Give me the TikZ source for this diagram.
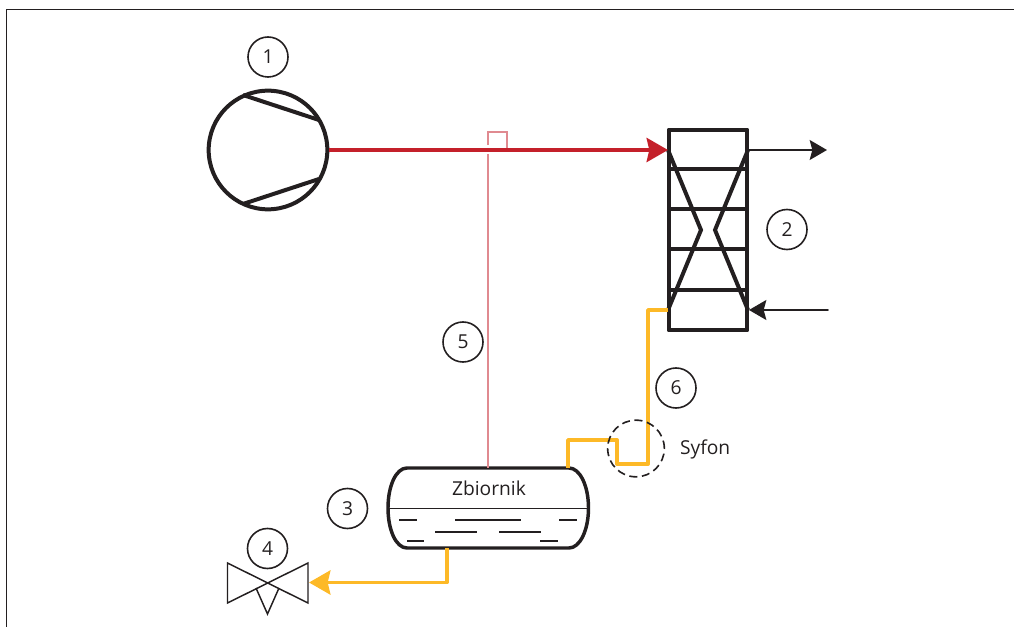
\documentclass[tikz,border=0pt]{standalone}
\usepackage{fontspec}
\setmainfont{Open Sans}
\usetikzlibrary{calc,arrows.meta,positioning}
\definecolor{inkblack}{HTML}{231F20}
\definecolor{hotred}{HTML}{C4202A}
\definecolor{pipered}{HTML}{E08A90}
\definecolor{pipeyellow}{HTML}{FDB927}
\tikzset{
   tag/.style={ circle, draw=inkblack, line width=1.2pt, minimum size=30pt, inner sep=0pt, text=inkblack, font=\Large},
   caption/.style={ inner sep=0pt, text=inkblack, font=\Large},
   thick line/.style={ draw=inkblack, line width=3pt, line join=round},
   thin line/.style={ draw=inkblack, line width=1.1pt},
   hot pipe/.style={ draw=hotred, line width=3pt},
   liquid pipe/.style={ draw=pipeyellow, line width=2.9pt, line join=round},
   water pipe/.style={ draw=inkblack, line width=1.2pt, -{Stealth[length=13pt,width=15pt,inset=2pt]}},
   big tip/.style={ -{Stealth[length=16pt,width=18pt,inset=2pt]}},
   >=latex
}
\begin{document}
\begin{tikzpicture}[x=0.75pt,y=-0.75pt]
  \useasboundingbox (0,0) rectangle (1014,627);

  %% Frame
  \draw[inkblack, line width=1.2pt] (6.5,627) -- (6.5,9.5) -- (1014,9.5);

  %% Compressor
  \node[circle, thick line, minimum size=89pt, inner sep=0pt] at (268,150) (compressor) {};
  \draw[thick line] (243,95) -- (319,120);
  \draw[thick line] (243,204) -- (319,179);

  %% Condenser
  \node[thick line, rectangle, minimum width=59pt, minimum height=150.5pt, inner sep=0pt] at (708,230) (condenser) {};
  \coordinate (cond in)  at (668,150);
  \coordinate (cond out) at (748,150);
  \coordinate (cond ret) at (749,310);
  \coordinate (cond liq) at (668,310);
  \foreach \yy in {169,209,249,290} {
    \draw[thick line, line width=2.4pt] (668,\yy) -- (748,\yy);
  }
  \draw[thick line, line join=miter] (cond in) -- (701,230) -- (cond liq);
  \draw[thick line, line join=miter] (cond out) -- (715,230) -- (748,310);

  %% Receiver
  \draw[thick line, line width=2.6pt] (407,468) .. controls (396,468) and (388,486) .. (388,508)
    .. controls (388,530) and (396,548) .. (407,548) -- (569,548)
    .. controls (580,548) and (588.5,530) .. (588.5,508)
    .. controls (588.5,486) and (580,468) .. (569,468) -- cycle;
  \coordinate (tank top)    at (488,468);
  \coordinate (tank outlet) at (568,468);
  \coordinate (tank bottom) at (447,548);
  \draw[thin line] (388,508.5) -- (588.5,508.5);
  \draw[thin line] (399,520) -- (417,520);
  \draw[thin line] (455,520) -- (521,520);
  \draw[thin line] (559,520) -- (577,520);
  \draw[thin line] (435,532) -- (477,532);
  \draw[thin line] (499,532) -- (541,532);
  \draw[thin line] (407,541) -- (424,541);
  \draw[thin line] (540,541) -- (558,541);
  \node[caption] at (489,488) (tank label) {Zbiornik};

  %% Valve
  \draw[thin line, line join=miter] (227.5,563) -- (227.5,603) -- (308,563) -- (308,603) -- cycle;
  \draw[thin line, line join=miter] (256,588) -- (267.5,614) -- (279,588);

  %% Pipes
  \draw[hot pipe, big tip] (compressor.east) -- (cond in);
  \draw[draw=pipered, line width=1pt] (tank top) -- (488,154);
  \draw[draw=pipered, line width=1pt] (488,145) -- (488,132) -- (507,132) -- (507,148);
  \draw[liquid pipe] (cond liq) -- (648,310) -- (648,464) -- (617,464) -- (617,440) -- (568,440) -- (tank outlet);
  \draw[liquid pipe, big tip] (tank bottom) -- (447,582.5) -- (309,582.5);

  \coordinate (water out) at (827,150);
  \coordinate (water in) at (828,310);
  \draw[water pipe] (cond out) -- (water out);
  \draw[water pipe, line cap=round] (water in) -- (cond ret);

  %% Siphon
  \node[circle, draw=inkblack, line width=1.2pt, dash pattern=on 6pt off 3.5pt, minimum size=42.5pt, inner sep=0pt] at (636,448.5) (siphon) {};
  \node[caption, right=11pt of siphon, yshift=-1pt] (siphon label) {Syfon};

  %% Tags
  \node[tag] at (268,57) (tag one) {1};
  \node[tag] at (787,229.5) (tag two) {2};
  \node[tag] at (347.5,508.5) (tag three) {3};
  \node[tag] at (267.5,548.5) (tag four) {4};
  \node[tag] at (463,342) (tag five) {5};
  \node[tag] at (676,388) (tag six) {6};
\end{tikzpicture}
\end{document}
